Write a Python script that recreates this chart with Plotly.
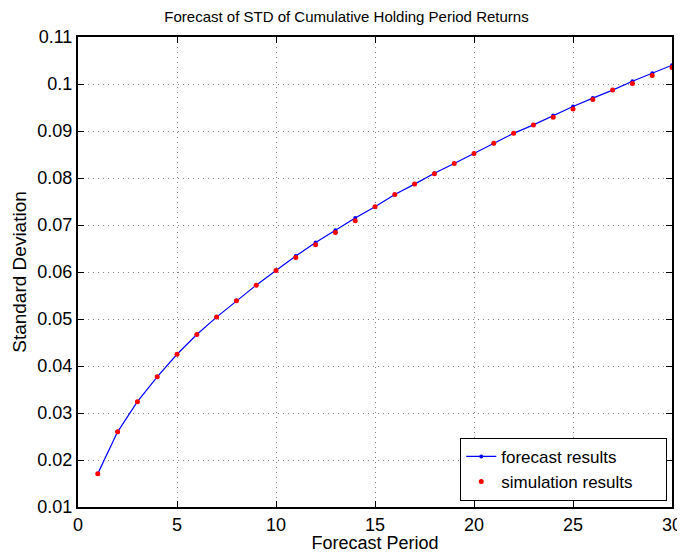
import plotly.graph_objects as go

periods = list(range(1, 31))
forecast = [0.0171, 0.0260, 0.0324, 0.0377, 0.0425, 0.0467, 0.0504, 0.0539, 0.0572, 0.0603,
            0.0634, 0.0663, 0.0689, 0.0715, 0.0739, 0.0765, 0.0787, 0.0810, 0.0831, 0.0852,
            0.0874, 0.0895, 0.0913, 0.0933, 0.0952, 0.0970, 0.0987, 0.1006, 0.1023, 0.1040]
simulation = [0.0171, 0.0260, 0.0324, 0.0377, 0.0425, 0.0467, 0.0504, 0.0539, 0.0572, 0.0603,
              0.0631, 0.0658, 0.0684, 0.0709, 0.0739, 0.0765, 0.0787, 0.0809, 0.0831, 0.0852,
              0.0874, 0.0895, 0.0913, 0.0929, 0.0947, 0.0967, 0.0987, 0.1001, 0.1018, 0.1035]
x_ticks = [0, 5, 10, 15, 20, 25, 30]
y_ticks = [0.01, 0.02, 0.03, 0.04, 0.05, 0.06, 0.07, 0.08, 0.09, 0.1, 0.11]
y_tick_labels = ["0.01", "0.02", "0.03", "0.04", "0.05", "0.06", "0.07", "0.08", "0.09", "0.1", "0.11"]

FONT = "Liberation Sans, Arial, Helvetica, sans-serif"

# The page body has an 8px default margin, so the figure is sized to fit the 685x553 window.
W, H = 677, 545
PAD = "\u00a0" * 6  # right padding inside the legend box

fig = go.Figure()
fig.add_trace(go.Scatter(x=periods, y=forecast, mode="lines+markers", name="forecast results",
                         line=dict(color="#0000ff", width=1.2),
                         marker=dict(color="#0000ff", size=4)))
fig.add_trace(go.Scatter(x=periods, y=simulation, mode="markers", name="simulation results" + PAD,
                         marker=dict(color="#ff0000", size=5)))

axis_common = dict(showline=True, linecolor="black", linewidth=2, mirror="ticks",
                   ticks="inside", ticklen=6, tickcolor="black", tickwidth=1,
                   showgrid=True, gridcolor="#808080", gridwidth=1, griddash="1px,4px",
                   zeroline=False, automargin=False,
                   tickfont=dict(size=18, color="black", family=FONT))

fig.update_layout(
    width=W, height=H,
    paper_bgcolor="white", plot_bgcolor="white",
    margin=dict(l=70, r=13, t=29, b=46),
    font=dict(family=FONT, color="black"),
    title=dict(text="Forecast of STD of Cumulative Holding Period Returns",
               x=0.5, xanchor="center", y=1 - 9 / H, yanchor="middle",
               font=dict(size=15, family=FONT, color="black")),
    xaxis=dict(range=[0, 30], tickvals=x_ticks,
               title=dict(text="Forecast Period", standoff=3, font=dict(size=18, family=FONT)),
               **axis_common),
    yaxis=dict(range=[0.01, 0.11], tickvals=y_ticks, ticktext=y_tick_labels,
               title=dict(text="Standard Deviation", standoff=6, font=dict(size=19, family=FONT)),
               **axis_common),
    legend=dict(x=0.992, y=0.013, xanchor="right", yanchor="bottom",
                bgcolor="white", bordercolor="black", borderwidth=1,
                font=dict(size=17, family=FONT, color="black"),
                itemwidth=30, tracegroupgap=0),
    showlegend=True,
)

fig.write_html("out.html")
